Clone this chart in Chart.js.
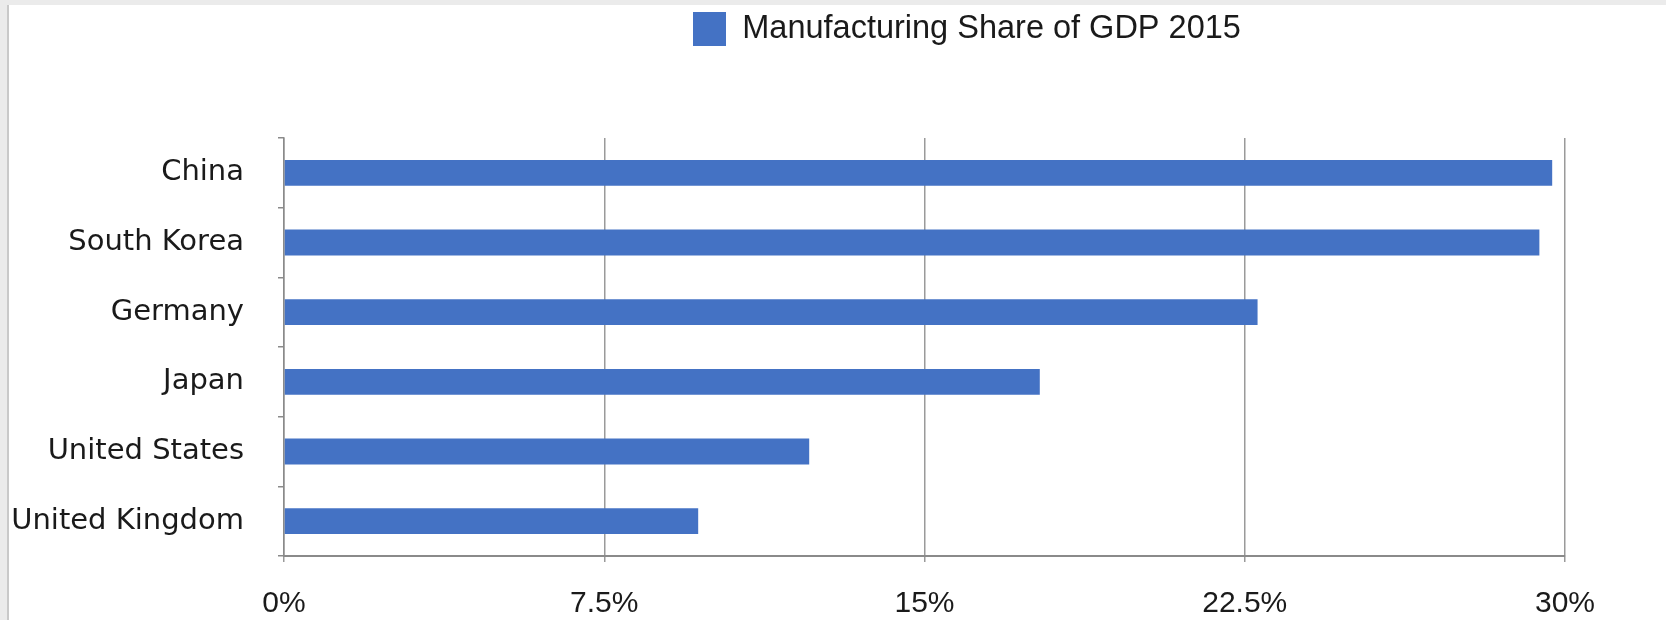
<!DOCTYPE html>
<html>
<head>
<meta charset="utf-8">
<script src="https://cdn.jsdelivr.net/npm/chart.js@4/dist/chart.umd.min.js"></script>
<style>
  html, body { margin: 0; padding: 0; background: #ebebeb; }
  #frame { position: absolute; left: 7px; top: 5px; width: 1659px; height: 615px; background: #fff; border-left: 2px solid #c9c9c9; }
  #wrap { position: absolute; left: 0; top: 0; width: 1666px; height: 620px; }
</style>
</head>
<body>
<div id="frame"></div>
<div id="wrap"><canvas id="c" width="1666" height="620"></canvas></div>
<script>
const categories = ["China", "South Korea", "Germany", "Japan", "United States", "United Kingdom"];
const seriesName = "Manufacturing Share of GDP 2015";
const shareValues = [29.7, 29.4, 22.8, 17.7, 12.3, 9.7];
const xTicks = [0, 7.5, 15, 22.5, 30];
const xTickLabels = ["0%", "7.5%", "15%", "22.5%", "30%"];

const layoutPlugin = {
  id: 'layoutTweaks',
  beforeLayout(chart) {
    const lg = chart.legend;
    if (lg && !lg._patched) {
      const f = lg.fit;
      lg.fit = function () { f.call(this); this.height += 82; };
      lg._patched = true;
    }
  },
  afterLayout(chart) {
    const lg = chart.legend;
    if (lg) {
      const target = 681;
      const shift = target - lg.left;
      lg.left += shift;
      lg.right += shift;
    }
  }
};

new Chart(document.getElementById('c'), {
  type: 'bar',
  data: {
    labels: categories,
    datasets: [{
      label: seriesName,
      data: shareValues,
      backgroundColor: '#4472C4',
      borderWidth: 0,
      categoryPercentage: 1,
      barPercentage: 0.37
    }]
  },
  options: {
    indexAxis: 'y',
    responsive: false,
    animation: false,
    devicePixelRatio: 1,
    layout: { padding: { left: 0, right: 101, top: 0, bottom: 0 } },
    plugins: {
      legend: {
        position: 'top',
        align: 'start',
        labels: {
          boxWidth: 33,
          boxHeight: 34,
          padding: 12,
          color: '#1a1a1a',
          font: { family: "'Liberation Sans', Arial, sans-serif", size: 32.5 }
        }
      },
      tooltip: { enabled: false }
    },
    scales: {
      x: {
        type: 'linear',
        min: 0,
        max: 30,
        afterBuildTicks(scale) { scale.ticks = xTicks.map(v => ({ value: v })); },
        afterFit(scale) { scale.height = 64; },
        ticks: {
          padding: 24,
          color: '#1a1a1a',
          font: { family: "'Liberation Sans', Arial, sans-serif", size: 30 },
          callback: (v) => xTickLabels[xTicks.indexOf(v)]
        },
        grid: { color: '#9a9a9a', lineWidth: 1.5, tickLength: 6, drawTicks: true },
        border: { display: true, color: '#8a8a8a', width: 2 }
      },
      y: {
        afterFit(scale) { scale.width = 284; },
        ticks: {
          padding: 34,
          color: '#1a1a1a',
          font: { family: "'DejaVu Sans', sans-serif", size: 29 }
        },
        grid: { drawOnChartArea: false, drawTicks: true, tickLength: 6, color: '#8a8a8a', lineWidth: 1.5, offset: true },
        border: { display: true, color: '#8a8a8a', width: 1.5 }
      }
    }
  },
  plugins: [layoutPlugin]
});
</script>
</body>
</html>
